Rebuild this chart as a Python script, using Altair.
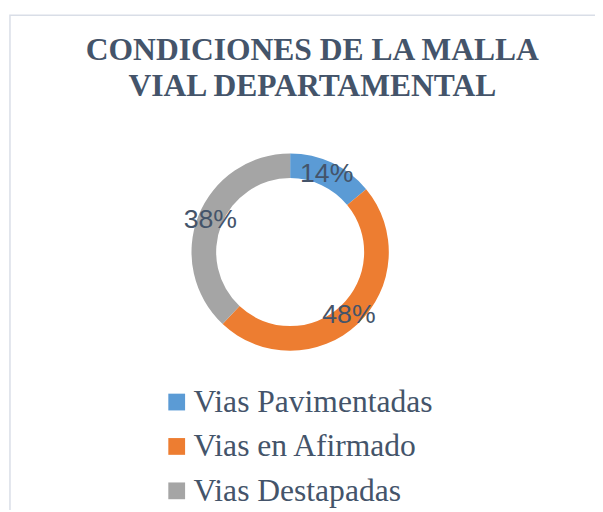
import altair as alt
import pandas as pd

categories = ["Vias Pavimentadas", "Vias en Afirmado", "Vias Destapadas"]
values = [14, 48, 38]
labels = ["14%", "48%", "38%"]
colors = ["#5B9BD5", "#ED7D31", "#A5A5A5"]
title_lines = ["CONDICIONES DE LA MALLA", "VIAL DEPARTAMENTAL"]

df = pd.DataFrame({"cat": categories, "val": values, "lab": labels, "ord": [0, 1, 2]})

TXT = "#44546A"
CX, CY = 284, 240

frame = alt.Chart(pd.DataFrame({"a": [0]})).mark_rect(
    fill="white", stroke="#D9DEE7", strokeWidth=1.5
).encode(x=alt.value(0), x2=alt.value(700), y=alt.value(0), y2=alt.value(700))

base = alt.Chart(df).encode(
    theta=alt.Theta("val:Q", stack=True),
    order=alt.Order("ord:Q"),
)

arcs = base.mark_arc(outerRadius=100, innerRadius=75).encode(
    x=alt.value(CX),
    y=alt.value(CY),
    color=alt.Color(
        "cat:N",
        scale=alt.Scale(domain=categories, range=colors),
        legend=alt.Legend(
            title=None,
            orient="none",
            legendX=153,
            legendY=376,
            symbolType="square",
            symbolSize=289,
            symbolStrokeWidth=0,
            labelFont="Liberation Serif",
            labelFontSize=32,
            labelColor=TXT,
            labelOffset=1,
            rowPadding=13,
            padding=0,
            labelLimit=400,
        ),
    ),
)

texts = base.mark_text(
    radius=87, font="Liberation Sans", fontSize=27, color=TXT
).encode(x=alt.value(CX), y=alt.value(CY), text="lab:N")

chart = alt.layer(frame, arcs, texts).properties(
    width=593,
    height=498,
    padding={"left": 2, "top": 4, "right": 0, "bottom": 0},
    autosize=alt.AutoSizeParams(type="none"),
    title=alt.TitleParams(
        text=title_lines,
        font="Liberation Serif",
        fontSize=32,
        fontWeight="bold",
        color=TXT,
        anchor="middle",
        frame="group",
        baseline="top",
        offset=-24,
        lineHeight=37,
        dx=10,
        dy=66,
    ),
).configure_view(stroke=None)

chart.save("out.html", embed_options={"renderer": "svg", "actions": False})
